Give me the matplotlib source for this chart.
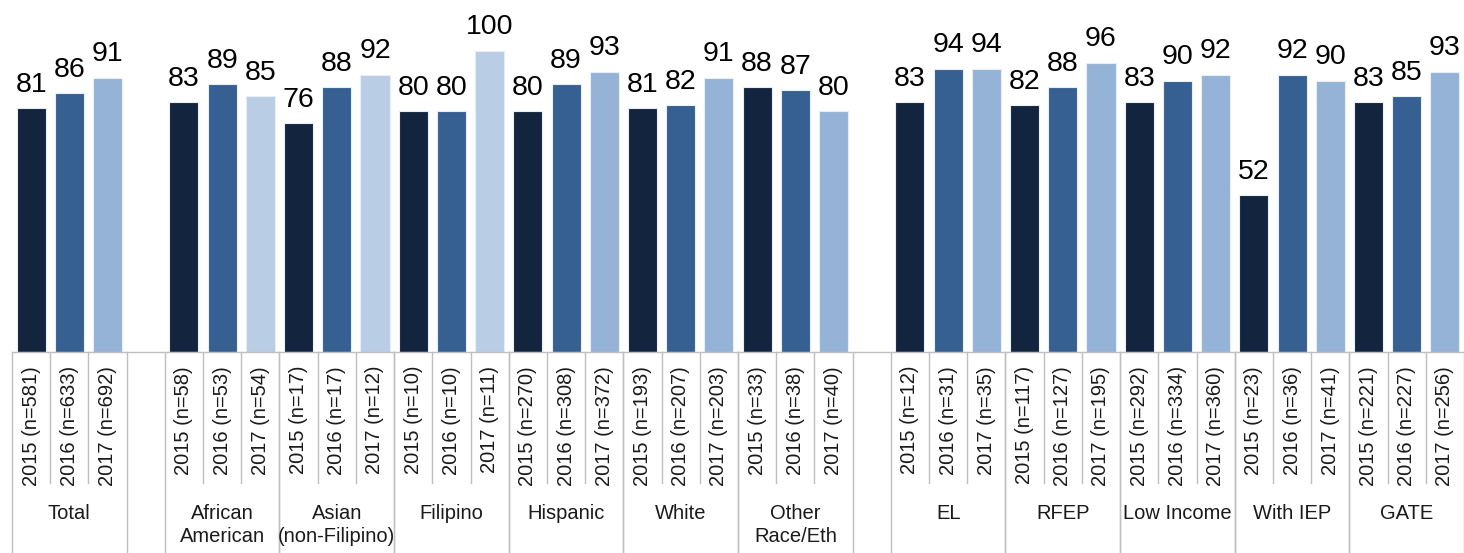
import matplotlib
matplotlib.use("Agg")
import matplotlib.pyplot as plt
from matplotlib.transforms import blended_transform_factory

plt.rcParams['font.family'] = ['Liberation Sans', 'DejaVu Sans']

groups = ["Total", "African\nAmerican", "Asian\n(non-Filipino)", "Filipino", "Hispanic",
          "White", "Other\nRace/Eth", "EL", "RFEP", "Low Income", "With IEP", "GATE"]
years = ["2015", "2016", "2017"]
values = [
    [81, 86, 91],
    [83, 89, 85],
    [76, 88, 92],
    [80, 80, 100],
    [80, 89, 93],
    [81, 82, 91],
    [88, 87, 80],
    [83, 94, 94],
    [82, 88, 96],
    [83, 90, 92],
    [52, 92, 90],
    [83, 85, 93],
]
counts = [
    [581, 633, 692],
    [58, 53, 54],
    [17, 17, 12],
    [10, 10, 11],
    [270, 308, 372],
    [193, 207, 203],
    [33, 38, 40],
    [12, 31, 35],
    [117, 127, 195],
    [292, 334, 360],
    [23, 36, 41],
    [221, 227, 256],
]
# slot where each group starts (blank slots separate Total / race / program groups)
group_start = [0, 4, 7, 10, 13, 16, 19, 23, 26, 29, 32, 35]
n_slots = 38

c2015 = "#13243f"
c2016 = "#376092"
c2017 = "#95b3d7"
c2017_light = "#b9cde5"
light_2017_groups = {1, 2, 3}

W, H = 1464, 553
fig = plt.figure(figsize=(W / 100, H / 100), dpi=100)
ax_bottom_px = 351.7
ax = fig.add_axes([12 / W, 1 - ax_bottom_px / H, (W - 12) / W, ax_bottom_px / H])
ax.set_xlim(-0.5, n_slots - 0.5)
ax.set_ylim(0, 117)

for s in ["top", "right", "left"]:
    ax.spines[s].set_visible(False)
ax.spines["bottom"].set_color("#bfbfbf")
ax.spines["bottom"].set_linewidth(1.0)
ax.set_yticks([])
ax.set_xticks([])

trans = blended_transform_factory(ax.transData, fig.transFigure)

def fy(py):
    return 1 - py / H

for g, (name, vals, ns, start) in enumerate(zip(groups, values, counts, group_start)):
    for k, (v, n) in enumerate(zip(vals, ns)):
        x = start + k
        if k == 0:
            col = c2015
        elif k == 1:
            col = c2016
        else:
            col = c2017_light if g in light_2017_groups else c2017
        ax.bar(x, v, width=0.76, color=col, edgecolor="#e8eef6", linewidth=0.8, zorder=2)
        ax.annotate(str(v), (x, v), xytext=(0, 12), textcoords="offset points",
                    ha="center", va="baseline", fontsize=20.5, color="black")
        ax.text(x, fy(366), f"{years[k]} (n={n})", transform=trans,
                rotation=90, ha="center", va="top", fontsize=14.5, color="#1a1a1a",
                clip_on=False)
        if k > 0:
            ax.plot([x - 0.5, x - 0.5], [fy(352), fy(483)], transform=trans,
                    color="#bfbfbf", lw=1.0, clip_on=False)
    ax.plot([start - 0.5, start - 0.5], [fy(352), fy(553)], transform=trans,
            color="#bfbfbf", lw=1.0, clip_on=False)
    ax.plot([start + 2.5, start + 2.5], [fy(352), fy(553)], transform=trans,
            color="#bfbfbf", lw=1.0, clip_on=False)
    ax.text(start + 1, fy(504), name, transform=trans, ha="center", va="top",
            fontsize=14.5, color="#1a1a1a", linespacing=1.3, multialignment="center",
            clip_on=False)

fig.savefig("out.png", dpi=100)
